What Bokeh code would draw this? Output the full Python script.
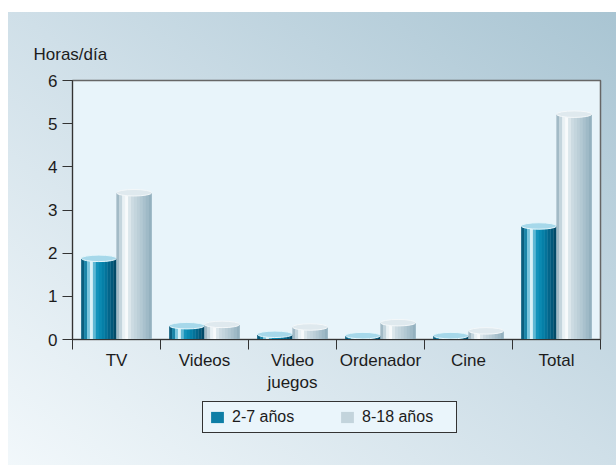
from bokeh.plotting import figure
from bokeh.layouts import column
from bokeh.models import (FactorRange, Range1d, LinearAxis, CategoricalAxis, FixedTicker,
                          Legend, LegendItem, ColumnDataSource, InlineStyleSheet,
                          CustomJSTickFormatter)
from bokeh.transform import dodge
from bokeh.embed import file_html
from bokeh.resources import INLINE

# ---- data ----
categories = ["TV", "Videos", "Video\njuegos", "Ordenador", "Cine", "Total"]
ninos_2_7 = [1.88, 0.32, 0.12, 0.09, 0.09, 2.63]
ninos_8_18 = [3.40, 0.35, 0.29, 0.39, 0.20, 5.22]
y_ticks = [0, 1, 2, 3, 4, 5, 6]
series_labels = ["2-7 años", "8-18 años"]
y_title = "Horas/día"

FONT = "Liberation Sans"
TXT = "#1c1c1c"
BLUE_ICON = "#0d7ea6"
GREY_ICON = "#c3d4dc"

src = ColumnDataSource(dict(cat=categories, a=ninos_2_7, b=ninos_8_18))

p = figure(frame_width=528, frame_height=259,
           x_range=FactorRange(*categories), y_range=Range1d(0, 6),
           output_backend="svg", toolbar_location=None,
           x_axis_location=None,
           min_border_left=72, min_border_right=16, min_border_top=80, min_border_bottom=60)
p.border_fill_alpha = 0
p.background_fill_color = "#e8f4fa"
p.outline_line_color = "#666666"
p.outline_line_width = 1.5
p.grid.visible = False

# title "Horas/día"
p.title.text = y_title
p.title.text_font = FONT
p.title.text_font_size = "17px"
p.title.text_font_style = "normal"
p.title.text_color = TXT
p.title.align = "left"
p.title.offset = -39
p.title.standoff = 34

# y axis
ya = p.yaxis[0]
ya.ticker = FixedTicker(ticks=y_ticks)
ya.major_tick_out = 10
ya.major_tick_in = 0
ya.minor_tick_line_color = None
ya.axis_line_color = "#333333"
ya.major_tick_line_color = "#333333"
ya.major_label_text_font = FONT
ya.major_label_text_font_size = "17px"
ya.major_label_text_color = TXT
ya.major_label_standoff = 5

# x axis: ticks at category boundaries, then the category labels
tick_axis = LinearAxis(ticker=FixedTicker(ticks=list(range(len(categories) + 1))),
                       formatter=CustomJSTickFormatter(code="return ''"),
                       major_tick_out=10, major_tick_in=0,
                       minor_tick_line_color=None,
                       axis_line_color="#333333", major_tick_line_color="#333333",
                       major_label_standoff=0)
p.add_layout(tick_axis, "below")
cat_axis = CategoricalAxis(axis_line_color=None, major_tick_line_color=None,
                           minor_tick_line_color=None,
                           major_label_text_font=FONT, major_label_text_font_size="17px",
                           major_label_text_color=TXT, major_label_standoff=-5)
p.add_layout(cat_axis, "below")

# cylinders
BAR_W = 0.4
blue_cols = ["#0b5e7e", "#1a85a8", "#7cc6de", "#d9f1f8", "#5fb8d4", "#1493bb",
             "#0a8ab2", "#0580a8", "#04739a", "#03658a", "#02587a", "#024a68"]
grey_cols = ["#a2bac6", "#c4d5dd", "#e9f1f4", "#f7fafb", "#dbe6eb", "#ccdbe2",
             "#c4d5dd", "#bccfd8", "#b3c9d3", "#a9c1cd", "#9fbac7", "#94b1bf"]
for field, center, cols, cap, rim in [("a", -0.2, blue_cols, "#a6d8ea", "#e6f6fb"),
                                      ("b", 0.2, grey_cols, "#dfe9ee", "#f4f8fa")]:
    n = len(cols)
    sw = BAR_W / n
    for k, c in enumerate(cols):
        off = center - BAR_W / 2 + (k + 0.5) * sw
        p.vbar(x=dodge("cat", off, range=p.x_range), top=field, width=sw * 1.1,
               source=src, fill_color=c, line_color=None)
    p.ellipse(x=dodge("cat", center, range=p.x_range), y=field, width=BAR_W, height=0.15,
              source=src, fill_color=cap, line_color=rim, line_width=1)

# legend strip (second figure below the chart); its glyphs use the same data but
# lie outside its visible range, so only the legend shows
p2 = figure(frame_width=616, frame_height=66, x_range=Range1d(100, 101), y_range=Range1d(100, 101),
            output_backend="svg", toolbar_location=None,
            x_axis_location=None, y_axis_location=None,
            min_border=0, min_border_left=0, min_border_right=0,
            min_border_top=0, min_border_bottom=0)
p2.border_fill_alpha = 0
p2.background_fill_alpha = 0
p2.outline_line_color = None
p2.grid.visible = False
r_a = p2.vbar(x="a", top="a", width=0.01, source=src, fill_color=BLUE_ICON, line_color=None)
r_b = p2.vbar(x="b", top="b", width=0.01, source=src, fill_color=GREY_ICON, line_color=None)
legend = Legend(items=[LegendItem(label=series_labels[0], renderers=[r_a]),
                       LegendItem(label=series_labels[1], renderers=[r_b])],
                orientation="horizontal", location=(202, 32), padding=6, margin=0,
                spacing=19, label_standoff=7, label_width=88,
                glyph_width=16, glyph_height=14,
                border_line_color="#333333", border_line_width=1, border_line_alpha=1,
                background_fill_color="#eaf5fb", background_fill_alpha=1,
                label_text_font=FONT, label_text_font_size="16px", label_text_color=TXT)
p2.add_layout(legend)

layout = column(p, p2, spacing=0)
layout.stylesheets = [InlineStyleSheet(css=""":host { background:
  linear-gradient(to bottom, #ffffff 0px, #ffffff 12px, rgba(255,255,255,0) 12px),
  linear-gradient(to right, #ffffff 0px, #ffffff 8px, rgba(255,255,255,0) 8px),
  linear-gradient(to top right, #f2f8fb 0%, #cfdfe8 50%, #a8c4d2 100%); }""")]

open("out.html", "w").write(file_html(layout, INLINE))
